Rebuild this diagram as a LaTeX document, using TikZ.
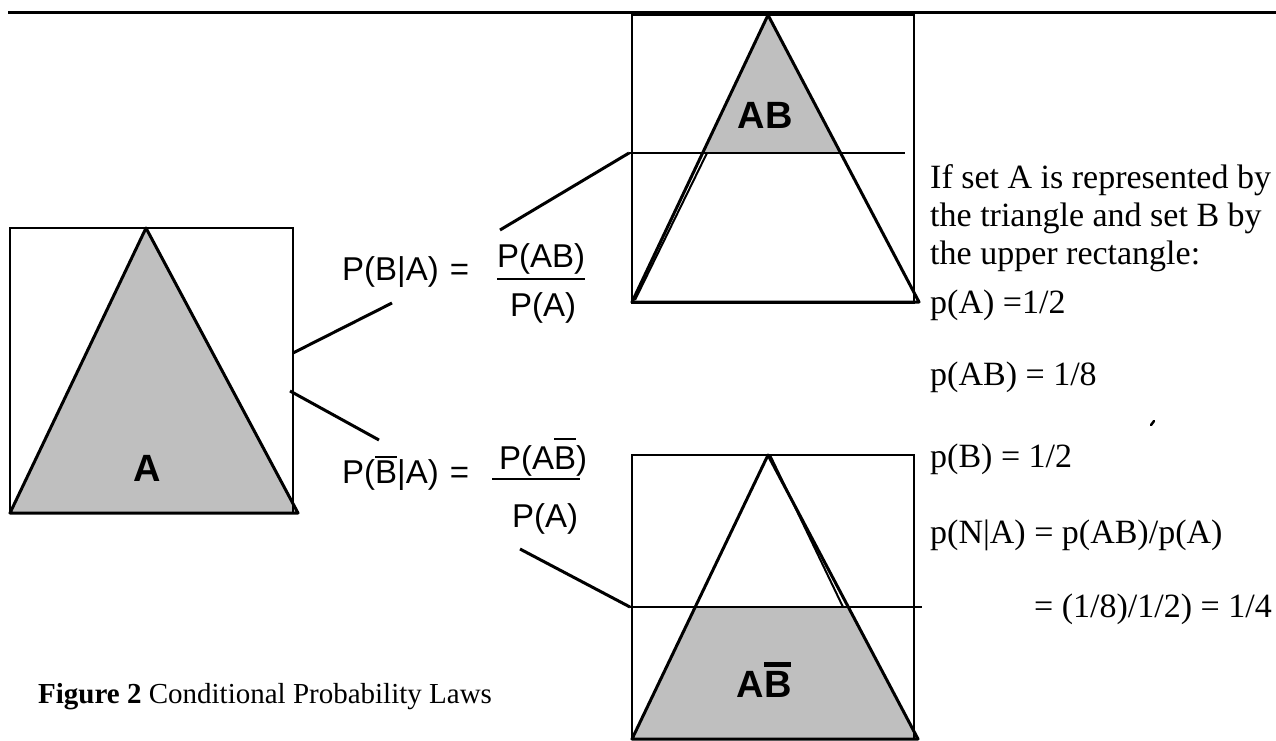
\documentclass[tikz,border=0pt]{standalone}
\usepackage{fontspec}
\setmainfont{Liberation Serif}
\newfontfamily\arialf{Liberation Sans}
% overline of given thickness (#1) and gap (#2) over text #3
\newcommand{\ovbar}[3]{\leavevmode\vbox{\hrule height #1\kern #2\hbox{#3}}}
\begin{document}
\begin{tikzpicture}[x=1pt,y=-1pt,
  boxst/.style={draw=black,line width=2pt},
  triang/.style={draw=black,line width=3pt,line join=round},
  shade/.style={fill=black!25},
  conn/.style={draw=black,line width=3pt},
  sep/.style={draw=black,line width=2pt},
  eqtext/.style={font=\arialf\fontsize{33}{38}\selectfont,inner sep=0pt},
  setlabel/.style={font=\arialf\bfseries\fontsize{38}{40}\selectfont,inner sep=0pt},
  serif/.style={font=\fontsize{34}{38}\selectfont,inner sep=0pt,anchor=west,align=left},
  capst/.style={font=\fontsize{29}{34}\selectfont,inner sep=0pt,anchor=west},
  fracbar/.style={draw=black,line width=2pt}]
\useasboundingbox (0,0) rectangle (1276,740);
% top rule
\draw[line width=3pt] (8,12) -- (1276,12);

% ---- left box: set A
\fill[shade] (146,228) -- (10,513) -- (298,513) -- cycle;
\draw[boxst] (10,228) rectangle (293,513);
\draw[triang] (146,228) -- (10,513) -- (298,513) -- cycle;
\node[setlabel] (lblA) at (147,468) {A};
\coordinate (lU) at (293,353);
\coordinate (lL) at (290,391);

% ---- top right box: AB
\fill[shade] (768,15) -- (703,153) -- (841,153) -- cycle;
\draw[boxst] (632,15) rectangle (914,303);
\draw[triang] (768,15) -- (632,302) -- (919,302) -- cycle;
\draw[line width=2pt] (707,153) -- (635,300);
\draw[sep] (629,153) -- (905,153);
\coordinate (tIn) at (629,153);
\node[setlabel] (lblAB) at (765,115) {AB};

% ---- bottom right box: A not-B
\fill[shade] (695,607) -- (848,607) -- (918,739) -- (632,739) -- cycle;
\draw[boxst] (632,455) rectangle (914,739);
\draw[triang] (768,455) -- (632,739) -- (918,739) -- cycle;
\draw[line width=2pt] (770,455) -- (843,607);
\draw[sep] (630,607) -- (922,607);
\coordinate (bIn) at (630,607);
\node[setlabel,anchor=base] (lblABn) at (764,697) {A\ovbar{5pt}{4pt}{B}};

% ---- first equation
\node[eqtext,anchor=west] (eq1) at (342,272) {P(B|A)\,\,=};
\node[eqtext] (num1) at (541,259) {P(AB)};
\node[eqtext] (den1) at (543,308) {P(A)};
\draw[fracbar] (497,279) -- (585,279);
\coordinate (e1L) at (392,303);
\coordinate (e1R) at (500,230);

% ---- second equation
\node[eqtext,anchor=west] (eq2) at (342,473) {P(\ovbar{2.2pt}{3pt}{B}|A)\,\,=};
\node[eqtext] (num2) at (543,457) {P(A\ovbar{2.2pt}{7pt}{B})};
\node[eqtext] (den2) at (545,519) {P(A)};
\draw[fracbar] (492,479) -- (580,479);
\coordinate (e2L) at (379,440);
\coordinate (e2R) at (520,549);

% ---- connectors
\draw[conn] (lU) -- (e1L);
\draw[conn] (lL) -- (e2L);
\draw[conn] (e1R) -- (tIn);
\draw[conn] (e2R) -- (bIn);

% ---- right-hand text
\node[serif] (intro) at (930,218) {If set A is represented by\\the triangle and set B by\\the upper rectangle:};
\node[serif] (pA) at (930,305) {p(A) =1/2};
\node[serif] (pAB) at (930,377) {p(AB) = 1/8};
\node[serif] (pB) at (930,459) {p(B) = 1/2};
\node[serif] (pNA) at (930,535) {p(N|A) = p(AB)/p(A)};
\node[serif,anchor=east] (res) at (1272,609) {= (1/8)/1/2) = 1/4};
\draw[line width=2.5pt,line cap=round] (1151,425) -- (1154,421);

% ---- caption
\node[capst] (cap) at (38,697) {\textbf{Figure 2} Conditional Probability Laws};
\end{tikzpicture}
\end{document}
